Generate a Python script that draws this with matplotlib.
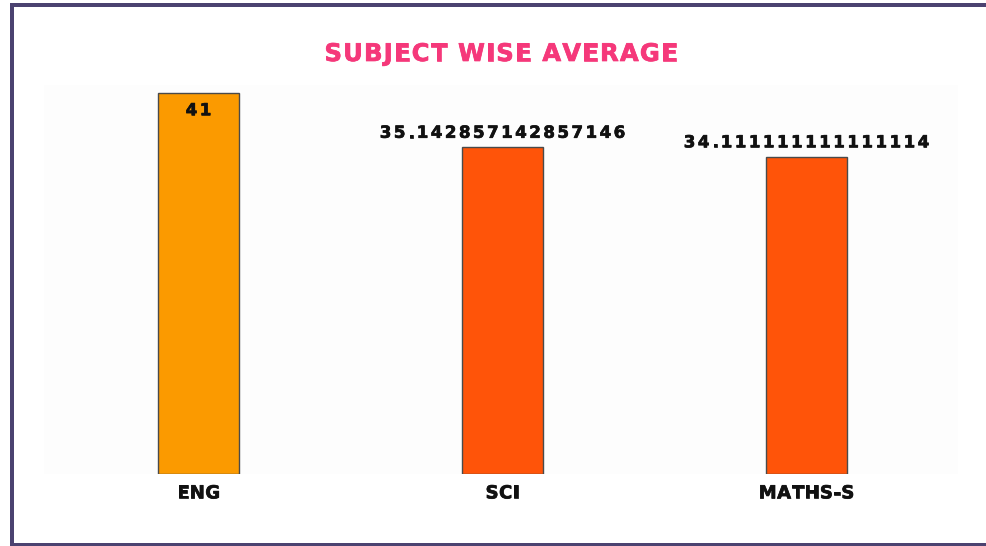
import matplotlib
matplotlib.use("Agg")
from matplotlib import pyplot as plt
from matplotlib.lines import Line2D
from matplotlib.font_manager import FontProperties, findfont, get_font
import matplotlib.patheffects as pe

plt.rcParams['font.family'] = ['DejaVu Sans']

subjects = ['ENG', 'SCI', 'MATHS-S']
averages = [41, 35.142857142857146, 34.111111111111114]
bar_colors = ['#FB9A00', '#FF5409', '#FF5409']
value_labels = ['41', '35.142857142857146', '34.111111111111114']

DPI = 100
fig = plt.figure(figsize=(9.86, 5.46), dpi=DPI)


def advances(s, fp):
    # real advance width of every char, in pixels
    font = get_font(findfont(fp))
    font.set_size(fp.get_size_in_points(), DPI)
    out = []
    for c in s:
        g = font.load_char(ord(c))
        out.append(g.linearHoriAdvance / 65536)
    return out


def spaced_text(ax, xy, s, size, spacing_px, coords, dy_pt=0, color='#111111'):
    # text with some letter spacing, drawn char by char
    fp = FontProperties(family='DejaVu Sans', weight='bold', size=size)
    widths = advances(s, fp)
    total = sum(widths) + spacing_px * (len(s) - 1)
    x = -total / 2
    for c, w in zip(s, widths):
        t = ax.annotate(c, xy, xycoords=coords, xytext=(x * 72 / DPI, dy_pt),
                        textcoords='offset points', ha='left', va='center',
                        fontproperties=fp, color=color, annotation_clip=False)
        # verdana bold is a bit heavier than dejavu bold
        t.set_path_effects([pe.withStroke(linewidth=0.5, foreground=color)])
        x += w + spacing_px


# plot area background (slightly wider than the band area)
bg = fig.add_axes([44 / 986, 1 - 474 / 546, 914 / 986, 389 / 546])
bg.set_facecolor('#FDFDFD')
bg.set_xticks([])
bg.set_yticks([])
for s in bg.spines.values():
    s.set_visible(False)

ax = fig.add_axes([46.5 / 986, 1 - 474 / 546, 912 / 986, 389 / 546])
ax.patch.set_visible(False)

pos = list(range(len(subjects)))
ax.bar(pos, averages, width=0.266, color=bar_colors, edgecolor='#4a4a4a', linewidth=1)
ax.set_xlim(-0.5, len(subjects) - 0.5)
ax.set_ylim(0, 41.85)

ymax = ax.get_ylim()[1]
for x, v, lab in zip(pos, averages, value_labels):
    if v / ymax > 0.9:
        # no room above, put it inside the bar
        spaced_text(ax, (x, v), lab, 12, 2.5, 'data', dy_pt=-12.5)
    else:
        spaced_text(ax, (x, v), lab, 12, 2.5, 'data', dy_pt=10.5)

ax.set_xticks([])
ax.set_yticks([])
for s in ax.spines.values():
    s.set_visible(False)
for x, lab in zip(pos, subjects):
    spaced_text(ax, (x, 0), lab, 13, 0.5, ('data', 'axes fraction'), dy_pt=-14)

spaced_text(ax, (501 / 986, 1 - 54 / 546), 'SUBJECT WISE AVERAGE', 17.5, 1.2,
            'figure fraction', color='#F5387A')

# frame round the card
frame = '#4B4270'
lw = 4 * 72 / DPI
fig.add_artist(Line2D([12 / 986, 12 / 986], [0, 1 - 3 / 546], color=frame, lw=lw, solid_capstyle='butt'))
fig.add_artist(Line2D([10 / 986, 1], [1 - 5 / 546, 1 - 5 / 546], color=frame, lw=lw, solid_capstyle='butt'))
fig.add_artist(Line2D([10 / 986, 1], [1.5 / 546, 1.5 / 546], color=frame, lw=lw, solid_capstyle='butt'))

fig.savefig('out.png', dpi=DPI)
